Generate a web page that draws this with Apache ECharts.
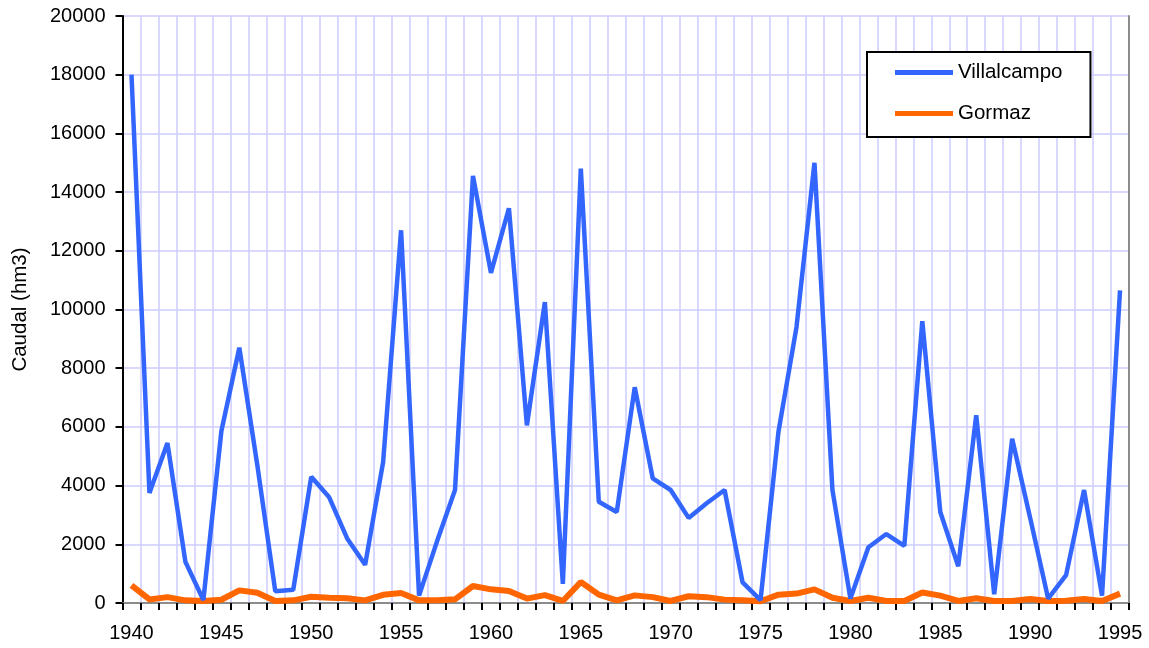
<!DOCTYPE html>
<html>
<head>
<meta charset="utf-8">
<script src="https://cdn.jsdelivr.net/npm/echarts@6/dist/echarts.min.js"></script>
<style>
html,body{margin:0;padding:0;background:#fff;}
#chart{width:1149px;height:648px;}
</style>
</head>
<body>
<div id="chart"></div>
<script>
var years = ['1940','1941','1942','1943','1944','1945','1946','1947','1948','1949',
  '1950','1951','1952','1953','1954','1955','1956','1957','1958','1959',
  '1960','1961','1962','1963','1964','1965','1966','1967','1968','1969',
  '1970','1971','1972','1973','1974','1975','1976','1977','1978','1979',
  '1980','1981','1982','1983','1984','1985','1986','1987','1988','1989',
  '1990','1991','1992','1993','1994','1995'];

var villalcampo = [18000,3750,5450,1400,100,5850,8700,4700,400,450,
  4300,3600,2200,1300,4800,12700,250,2100,3850,14550,
  11250,13450,6050,10250,650,14800,3450,3100,7350,4250,
  3850,2900,3400,3850,700,100,5850,9400,15000,3850,
  150,1900,2350,1950,9600,3100,1250,6400,300,5600,
  2900,150,950,3850,250,10650];

var gormaz = [600,120,200,90,70,110,430,350,70,90,
  215,180,160,90,280,340,90,90,125,580,
  465,410,150,270,70,715,285,90,260,200,
  70,230,200,115,90,60,285,320,465,180,
  70,180,70,70,360,250,70,160,70,70,
  135,70,80,135,70,320];

var seriesNames = ['Villalcampo','Gormaz'];

var chart = echarts.init(document.getElementById('chart'), null, {renderer:'canvas'});
var font = 'Liberation Sans, Arial, sans-serif';
chart.setOption({
  animation:false,
  backgroundColor:'#ffffff',
  grid:{left:122.5,right:20,top:16,bottom:45},
  legend:{
    orient:'vertical',left:867,top:52,
    backgroundColor:'#ffffff',borderColor:'#000',borderWidth:2,
    padding:[10,28,13,28],itemGap:20,itemWidth:58,itemHeight:5,
    textStyle:{fontFamily:font,fontSize:20.5,color:'#000'},
    data:[{name:seriesNames[0],icon:'rect'},{name:seriesNames[1],icon:'rect'}]
  },
  xAxis:[{
    type:'category',data:years,boundaryGap:true,
    axisLine:{lineStyle:{color:'#000',width:2}},
    axisTick:{show:true,interval:0,length:7,lineStyle:{color:'#000',width:2}},
    axisLabel:{interval:4,margin:20,color:'#000',fontFamily:font,fontSize:20},
    splitLine:{show:true,interval:0,lineStyle:{color:'#ccccff',width:1.5}}
  },{
    type:'category',data:years,boundaryGap:true,position:'top',
    axisLine:{show:true,lineStyle:{color:'#8c8c8c',width:2}},
    axisTick:{show:false},axisLabel:{show:false},splitLine:{show:false}
  }],
  yAxis:[{
    type:'value',min:0,max:20000,interval:2000,
    name:'Caudal (hm3)',nameLocation:'middle',nameGap:92,
    nameTextStyle:{fontFamily:font,fontSize:20.5,color:'#000'},
    axisLine:{show:true,lineStyle:{color:'#000',width:2}},
    axisTick:{show:true,length:7,lineStyle:{color:'#000',width:2}},
    axisLabel:{margin:17,color:'#000',fontFamily:font,fontSize:20,
      formatter:function(v){return String(v);}},
    splitLine:{show:true,lineStyle:{color:'#ccccff',width:1.5}}
  },{
    type:'value',min:0,max:20000,interval:2000,position:'right',
    axisLine:{show:true,lineStyle:{color:'#8c8c8c',width:2}},
    axisTick:{show:false},axisLabel:{show:false},splitLine:{show:false}
  }],
  series:[
    {name:seriesNames[0],type:'line',data:villalcampo,symbol:'none',
      itemStyle:{color:'#3366ff'},lineStyle:{color:'#3366ff',width:4.5},z:3},
    {name:seriesNames[1],type:'line',data:gormaz,symbol:'none',
      itemStyle:{color:'#ff6600'},lineStyle:{color:'#ff6600',width:6},z:2}
  ]
});
</script>
</body>
</html>
